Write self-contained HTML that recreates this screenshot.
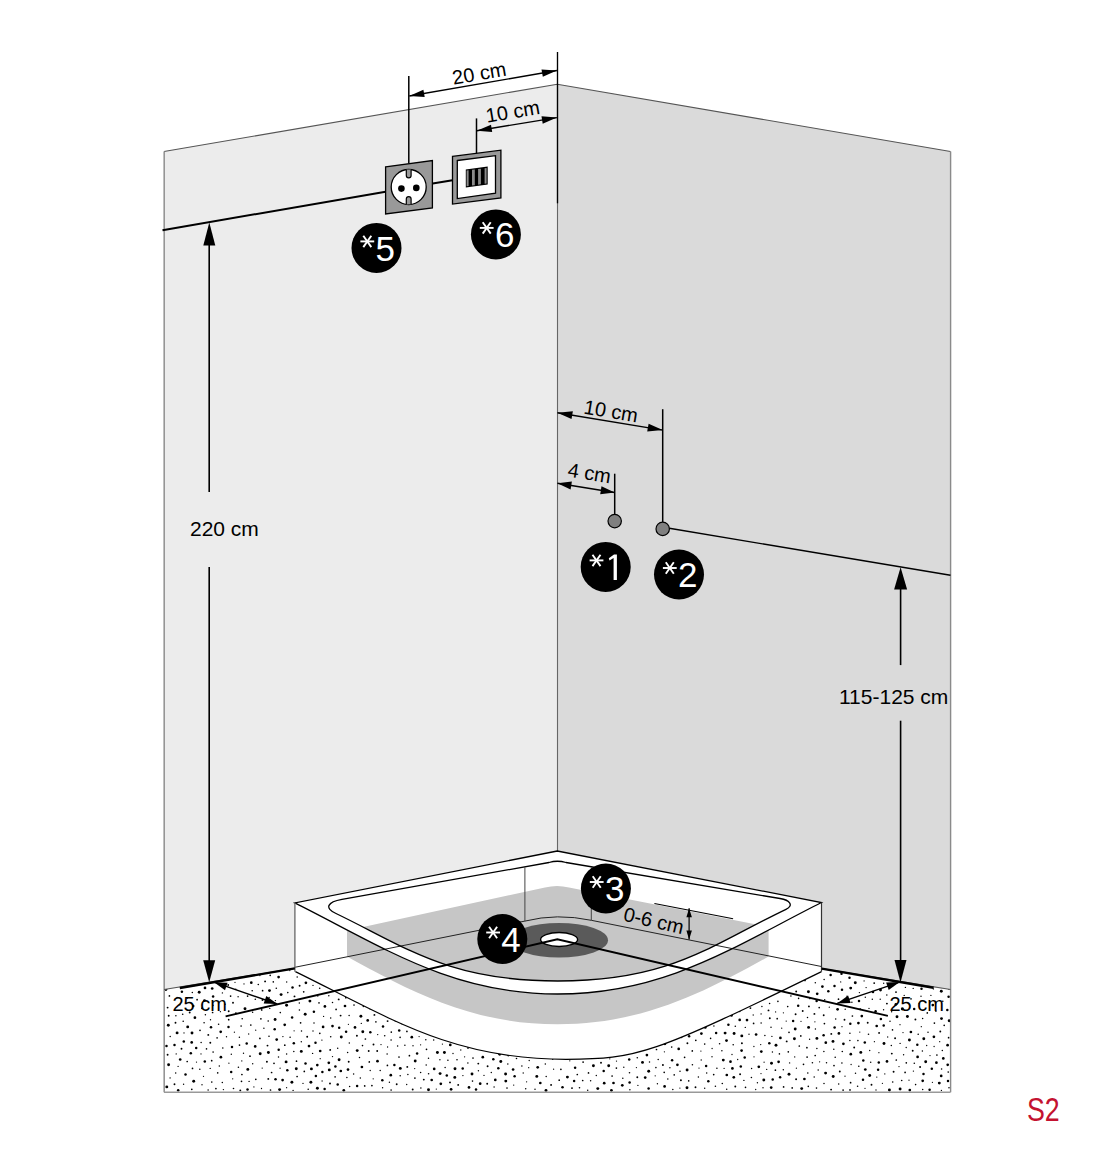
<!DOCTYPE html>
<html><head><meta charset="utf-8"><style>
html,body{margin:0;padding:0;background:#fff;}
body{width:1100px;height:1174px;overflow:hidden;}
svg{display:block;}
.t{font-family:"Liberation Sans",sans-serif;font-size:20px;fill:#000;}
.t21{font-size:21px;}
.it{font-style:italic;}
.bd{font-family:"Liberation Sans",sans-serif;font-size:35px;fill:#fff;}
.s2{font-family:"Liberation Sans",sans-serif;font-size:33.5px;fill:#c41230;}
</style></head><body>
<svg width="1100" height="1174" viewBox="0 0 1100 1174">
<rect width="1100" height="1174" fill="#fff"/>
<rect x="164" y="960" width="786.5" height="132" fill="#fff"/>
<g fill="#000"><circle cx="419.4" cy="981.4" r="1.25"/><circle cx="675.8" cy="971.3" r="0.65"/><circle cx="585.6" cy="1009" r="0.95"/><circle cx="211" cy="1027.2" r="1.25"/><circle cx="194.9" cy="1017.7" r="1.35"/><circle cx="220.3" cy="973.7" r="1.45"/><circle cx="498.3" cy="1068.3" r="1.25"/><circle cx="262.6" cy="990.7" r="0.85"/><circle cx="657.4" cy="1083.8" r="0.7"/><circle cx="617.9" cy="1013" r="0.65"/><circle cx="930.9" cy="968" r="0.8"/><circle cx="838.5" cy="999.2" r="0.85"/><circle cx="278.6" cy="977.1" r="1.35"/><circle cx="407.3" cy="1066.9" r="0.95"/><circle cx="307.2" cy="1036.7" r="0.95"/><circle cx="666.4" cy="1009.9" r="0.7"/><circle cx="594.9" cy="970.1" r="0.7"/><circle cx="212.2" cy="988.5" r="1.35"/><circle cx="698.9" cy="1016.9" r="0.7"/><circle cx="411.8" cy="1037.2" r="1.35"/><circle cx="520.8" cy="1000.5" r="1.35"/><circle cx="788.3" cy="1051.8" r="0.85"/><circle cx="356.9" cy="1035.8" r="0.95"/><circle cx="577.3" cy="1074.5" r="0.85"/><circle cx="737.4" cy="999" r="0.7"/><circle cx="934" cy="977.2" r="1.45"/><circle cx="493.3" cy="1059.3" r="1.25"/><circle cx="284.7" cy="1024.8" r="1.35"/><circle cx="196.2" cy="1047.9" r="1.25"/><circle cx="764.9" cy="1035.6" r="0.75"/><circle cx="851.9" cy="1002.3" r="0.75"/><circle cx="710.6" cy="1038.4" r="0.8"/><circle cx="620.1" cy="1020.6" r="0.65"/><circle cx="824" cy="1083.4" r="0.75"/><circle cx="537.2" cy="1047.3" r="1.45"/><circle cx="213.1" cy="1052.1" r="0.8"/><circle cx="672.8" cy="1089.6" r="0.75"/><circle cx="809.9" cy="998.6" r="0.8"/><circle cx="468" cy="1047.9" r="0.95"/><circle cx="183.2" cy="1021.3" r="0.8"/><circle cx="297.2" cy="977" r="0.75"/><circle cx="211.7" cy="1060.7" r="0.85"/><circle cx="472" cy="1074" r="1.45"/><circle cx="228.7" cy="1019.7" r="0.85"/><circle cx="596.3" cy="1075.5" r="0.7"/><circle cx="807.8" cy="1073" r="0.8"/><circle cx="383.8" cy="1015.4" r="0.7"/><circle cx="446.8" cy="1075.6" r="1.25"/><circle cx="916.4" cy="981.4" r="0.75"/><circle cx="303.7" cy="991.8" r="0.85"/><circle cx="348.4" cy="1024.3" r="0.65"/><circle cx="627.4" cy="995.8" r="1.25"/><circle cx="168.7" cy="1015.8" r="0.95"/><circle cx="455" cy="1034.8" r="1.45"/><circle cx="912.7" cy="1050.7" r="0.95"/><circle cx="569.6" cy="1041.4" r="0.85"/><circle cx="695.6" cy="968.9" r="0.7"/><circle cx="870.7" cy="1062.2" r="0.75"/><circle cx="851.1" cy="1064.5" r="0.65"/><circle cx="473.1" cy="1013.3" r="0.85"/><circle cx="246.7" cy="1043.5" r="1.25"/><circle cx="329.2" cy="982.9" r="0.7"/><circle cx="432.1" cy="968.8" r="0.95"/><circle cx="165.7" cy="981.4" r="0.95"/><circle cx="245" cy="1008.7" r="1.45"/><circle cx="185.5" cy="1074.4" r="1.25"/><circle cx="646.9" cy="981.1" r="1.25"/><circle cx="363.3" cy="1006.6" r="0.75"/><circle cx="451" cy="977.8" r="0.85"/><circle cx="831.1" cy="1089.6" r="0.95"/><circle cx="530.8" cy="1024.2" r="1.35"/><circle cx="232.8" cy="975.1" r="0.75"/><circle cx="434.1" cy="996" r="1.25"/><circle cx="815.3" cy="982.7" r="0.75"/><circle cx="183.6" cy="1084.2" r="0.7"/><circle cx="579.7" cy="980.8" r="0.85"/><circle cx="579.5" cy="1087.7" r="0.8"/><circle cx="842.3" cy="1051.5" r="0.8"/><circle cx="370.2" cy="1009.1" r="0.65"/><circle cx="296.5" cy="1061.2" r="0.85"/><circle cx="583.1" cy="1062.1" r="0.85"/><circle cx="424" cy="990.7" r="1.25"/><circle cx="801.7" cy="1088.6" r="1.45"/><circle cx="834" cy="1065.6" r="0.85"/><circle cx="807.1" cy="1057.1" r="0.85"/><circle cx="444.3" cy="965.7" r="1.45"/><circle cx="187.4" cy="997.9" r="0.8"/><circle cx="368.7" cy="1051" r="0.95"/><circle cx="915.4" cy="1019.5" r="0.95"/><circle cx="900.1" cy="1089" r="1.45"/><circle cx="914.2" cy="1008.9" r="1.25"/><circle cx="338.3" cy="991.1" r="1.35"/><circle cx="319.7" cy="988.3" r="0.8"/><circle cx="824.4" cy="1023.6" r="0.85"/><circle cx="677.4" cy="1064.8" r="1.35"/><circle cx="232" cy="1046.9" r="1.25"/><circle cx="878.8" cy="1062.5" r="1.25"/><circle cx="753.6" cy="1023.4" r="0.85"/><circle cx="305.5" cy="1063.4" r="1.25"/><circle cx="426.2" cy="1064.9" r="0.75"/><circle cx="927.3" cy="1012.9" r="0.85"/><circle cx="480.2" cy="1083.7" r="1.35"/><circle cx="733.7" cy="983.8" r="0.7"/><circle cx="265.1" cy="981.4" r="0.95"/><circle cx="280.1" cy="1068.2" r="0.65"/><circle cx="934.1" cy="1046.5" r="0.65"/><circle cx="440.2" cy="1032.5" r="0.95"/><circle cx="268.2" cy="963.8" r="0.85"/><circle cx="926.7" cy="1045.5" r="0.65"/><circle cx="505.6" cy="1074" r="1.45"/><circle cx="362.9" cy="999.6" r="0.8"/><circle cx="268.3" cy="1078.9" r="0.95"/><circle cx="442.9" cy="1020.9" r="0.95"/><circle cx="622.8" cy="1078.2" r="0.75"/><circle cx="495.3" cy="1079.9" r="1.35"/><circle cx="558.8" cy="1030.3" r="0.75"/><circle cx="575.9" cy="964.4" r="0.65"/><circle cx="510.6" cy="985.5" r="0.95"/><circle cx="168.6" cy="1064.7" r="1.45"/><circle cx="300.6" cy="1022.8" r="0.85"/><circle cx="734.1" cy="1033.5" r="1.45"/><circle cx="421.1" cy="1028.6" r="1.25"/><circle cx="601" cy="1062.8" r="0.95"/><circle cx="248.7" cy="1034" r="0.65"/><circle cx="771" cy="1027.2" r="0.75"/><circle cx="880.9" cy="1019" r="1.25"/><circle cx="645.7" cy="1027" r="0.95"/><circle cx="567" cy="1051" r="1.35"/><circle cx="520.1" cy="1030.5" r="1.25"/><circle cx="540.3" cy="1083" r="1.35"/><circle cx="713.7" cy="1074.6" r="0.85"/><circle cx="904.2" cy="995.4" r="0.7"/><circle cx="604.2" cy="1083.2" r="1.35"/><circle cx="824.1" cy="979.6" r="0.75"/><circle cx="260.9" cy="1018.8" r="0.85"/><circle cx="222.4" cy="992.9" r="0.7"/><circle cx="222.8" cy="1048" r="0.8"/><circle cx="780.1" cy="1077.3" r="1.25"/><circle cx="286.6" cy="1054" r="0.75"/><circle cx="683.1" cy="980.4" r="0.95"/><circle cx="857.6" cy="1086.3" r="0.8"/><circle cx="337.7" cy="1084.4" r="1.25"/><circle cx="477.7" cy="1024.6" r="0.85"/><circle cx="941.6" cy="1069" r="0.8"/><circle cx="292.1" cy="1017.5" r="1.25"/><circle cx="569.7" cy="1005.6" r="1.35"/><circle cx="319" cy="1002.9" r="0.8"/><circle cx="731.7" cy="964.5" r="0.8"/><circle cx="599.9" cy="1018.6" r="1.35"/><circle cx="179.7" cy="1004.6" r="0.95"/><circle cx="654.7" cy="1027.8" r="0.7"/><circle cx="215.9" cy="1088.6" r="0.85"/><circle cx="783.6" cy="1086.9" r="0.85"/><circle cx="247.6" cy="996.1" r="0.85"/><circle cx="196.5" cy="1062.1" r="0.65"/><circle cx="377.5" cy="978.6" r="1.35"/><circle cx="282.6" cy="1080.1" r="1.35"/><circle cx="612.8" cy="1052" r="1.45"/><circle cx="222.3" cy="1082.6" r="0.75"/><circle cx="662.9" cy="1065" r="0.95"/><circle cx="231.2" cy="1072" r="1.25"/><circle cx="217.7" cy="1072.9" r="0.8"/><circle cx="578.6" cy="992.6" r="0.8"/><circle cx="251.3" cy="982.7" r="1.35"/><circle cx="205" cy="987.9" r="1.35"/><circle cx="410.1" cy="1001.2" r="0.65"/><circle cx="760.9" cy="999.3" r="0.75"/><circle cx="557.6" cy="984.9" r="0.7"/><circle cx="361.9" cy="964" r="0.75"/><circle cx="314" cy="1023" r="0.75"/><circle cx="898.3" cy="975.7" r="0.95"/><circle cx="807.5" cy="1017.5" r="0.75"/><circle cx="553.6" cy="1069.2" r="0.65"/><circle cx="704.7" cy="1088.2" r="0.7"/><circle cx="434.2" cy="1068.9" r="1.35"/><circle cx="719.6" cy="1043.7" r="0.8"/><circle cx="482.8" cy="1006.7" r="0.65"/><circle cx="208.1" cy="978.7" r="0.65"/><circle cx="220.9" cy="1057.2" r="1.35"/><circle cx="365.9" cy="983" r="0.8"/><circle cx="386.5" cy="993.1" r="0.85"/><circle cx="395.3" cy="1021" r="0.7"/><circle cx="371.9" cy="1085.6" r="0.85"/><circle cx="928" cy="1032.3" r="0.75"/><circle cx="357.1" cy="1086.1" r="1.25"/><circle cx="537.6" cy="1026.6" r="1.25"/><circle cx="323.1" cy="1026.9" r="1.35"/><circle cx="169.4" cy="995.9" r="0.85"/><circle cx="235.9" cy="1013.3" r="0.95"/><circle cx="198.2" cy="964.9" r="0.75"/><circle cx="404" cy="991.9" r="1.25"/><circle cx="624.6" cy="1030" r="0.95"/><circle cx="753.9" cy="1046.5" r="0.65"/><circle cx="726.8" cy="1075" r="1.35"/><circle cx="470.9" cy="1003.9" r="1.25"/><circle cx="733.2" cy="1044.7" r="0.8"/><circle cx="199.8" cy="1069.3" r="0.75"/><circle cx="864.8" cy="1042.6" r="1.25"/><circle cx="740.8" cy="1066.4" r="1.25"/><circle cx="274.7" cy="1029.3" r="1.25"/><circle cx="560.9" cy="1069.3" r="0.85"/><circle cx="796.4" cy="1068.2" r="0.65"/><circle cx="700.9" cy="1051.1" r="0.65"/><circle cx="345.8" cy="966" r="1.45"/><circle cx="269.8" cy="1008.4" r="0.65"/><circle cx="247.8" cy="1069.4" r="1.45"/><circle cx="603.4" cy="1042.7" r="0.8"/><circle cx="656.5" cy="1049.5" r="0.85"/><circle cx="549.1" cy="962.4" r="0.75"/><circle cx="743.1" cy="994.4" r="1.45"/><circle cx="745.5" cy="1087.4" r="0.8"/><circle cx="552.8" cy="1011.2" r="1.45"/><circle cx="281.1" cy="994.6" r="1.45"/><circle cx="748.2" cy="1001.1" r="0.85"/><circle cx="610.6" cy="963.6" r="0.65"/><circle cx="213.1" cy="996.5" r="1.25"/><circle cx="692.3" cy="1050.9" r="0.85"/><circle cx="695.3" cy="999.4" r="1.35"/><circle cx="570.5" cy="1021.7" r="0.85"/><circle cx="531.1" cy="977.2" r="0.95"/><circle cx="866.1" cy="987.6" r="0.7"/><circle cx="932.4" cy="1082.3" r="0.65"/><circle cx="808.3" cy="1086.4" r="0.8"/><circle cx="330" cy="1083.5" r="0.95"/><circle cx="330.7" cy="1036.7" r="0.8"/><circle cx="808.6" cy="1027.4" r="1.45"/><circle cx="860.8" cy="1052.4" r="1.45"/><circle cx="346.9" cy="1077.4" r="0.75"/><circle cx="168.3" cy="1025.2" r="1.45"/><circle cx="891.8" cy="1053.6" r="0.95"/><circle cx="872.3" cy="999.2" r="0.75"/><circle cx="457.3" cy="1012.5" r="1.35"/><circle cx="948.6" cy="1037.7" r="0.85"/><circle cx="381.2" cy="968.2" r="0.85"/><circle cx="389.4" cy="1082.2" r="0.7"/><circle cx="566.1" cy="986.4" r="0.85"/><circle cx="458.2" cy="1084.9" r="0.95"/><circle cx="858.8" cy="1066.3" r="0.8"/><circle cx="903" cy="1032.6" r="0.65"/><circle cx="739.7" cy="1019.9" r="1.35"/><circle cx="389.9" cy="968.3" r="0.95"/><circle cx="535.7" cy="1006.2" r="0.85"/><circle cx="399" cy="1057" r="0.85"/><circle cx="930.9" cy="995.4" r="0.65"/><circle cx="679.8" cy="1000.7" r="1.25"/><circle cx="876" cy="1090" r="0.65"/><circle cx="518.3" cy="979.9" r="0.75"/><circle cx="316.3" cy="973.7" r="0.65"/><circle cx="353" cy="995.2" r="0.65"/><circle cx="612.1" cy="1076" r="0.85"/><circle cx="753.2" cy="1015" r="0.65"/><circle cx="490" cy="1029.4" r="0.7"/><circle cx="461" cy="1005.5" r="0.7"/><circle cx="924.2" cy="978.2" r="0.65"/><circle cx="560.2" cy="1042.9" r="0.95"/><circle cx="842" cy="989.8" r="1.25"/><circle cx="378" cy="993.9" r="1.35"/><circle cx="913.4" cy="1071.1" r="0.7"/><circle cx="849.8" cy="964.8" r="0.8"/><circle cx="190.8" cy="1053.2" r="1.25"/><circle cx="867.7" cy="1022.8" r="0.95"/><circle cx="625.8" cy="962" r="0.95"/><circle cx="472.5" cy="1081.1" r="0.8"/><circle cx="575" cy="1049.6" r="0.85"/><circle cx="903.6" cy="1054.7" r="0.7"/><circle cx="671.6" cy="1001" r="0.85"/><circle cx="664.4" cy="1051.8" r="0.65"/><circle cx="253.4" cy="971" r="0.8"/><circle cx="576.7" cy="1036.9" r="0.65"/><circle cx="469.8" cy="990.7" r="0.75"/><circle cx="636.7" cy="963.3" r="0.85"/><circle cx="917.3" cy="1044.8" r="1.25"/><circle cx="858.4" cy="1023.1" r="1.35"/><circle cx="406.5" cy="964.8" r="0.65"/><circle cx="556.2" cy="1048.7" r="1.25"/><circle cx="494.8" cy="995.1" r="1.35"/><circle cx="688.7" cy="1080.9" r="0.8"/><circle cx="430.5" cy="1016" r="0.7"/><circle cx="700.6" cy="987.5" r="0.95"/><circle cx="925.9" cy="1002.1" r="0.65"/><circle cx="808.4" cy="991.7" r="1.45"/><circle cx="339.1" cy="1059.7" r="1.45"/><circle cx="396.7" cy="1084.3" r="0.95"/><circle cx="340.6" cy="1015.6" r="0.95"/><circle cx="280.3" cy="1012.6" r="0.8"/><circle cx="276.8" cy="968.7" r="0.85"/><circle cx="212.6" cy="1012.5" r="0.85"/><circle cx="869.7" cy="1075.5" r="1.45"/><circle cx="895.9" cy="1004.3" r="1.35"/><circle cx="310.9" cy="1082.3" r="1.45"/><circle cx="750.6" cy="966.1" r="0.65"/><circle cx="686.4" cy="1010.7" r="1.35"/><circle cx="298.2" cy="962.4" r="1.45"/><circle cx="384.9" cy="1007.2" r="0.75"/><circle cx="921.5" cy="988.7" r="1.25"/><circle cx="445.1" cy="1067.6" r="0.75"/><circle cx="204.1" cy="1022.8" r="0.8"/><circle cx="868.7" cy="965.9" r="0.95"/><circle cx="487.6" cy="1066.3" r="0.95"/><circle cx="766.6" cy="967.2" r="0.65"/><circle cx="192.8" cy="970" r="0.65"/><circle cx="886.8" cy="995" r="0.75"/><circle cx="751.4" cy="1077.5" r="0.8"/><circle cx="884" cy="1043.5" r="1.45"/><circle cx="905" cy="965.1" r="0.8"/><circle cx="915.6" cy="1084.6" r="0.8"/><circle cx="502.6" cy="1025.4" r="0.95"/><circle cx="893.1" cy="985.5" r="0.65"/><circle cx="794.7" cy="1056.9" r="0.7"/><circle cx="641.6" cy="1004.1" r="1.45"/><circle cx="416" cy="1008.5" r="0.65"/><circle cx="778.8" cy="972.2" r="1.25"/><circle cx="320.2" cy="1058.7" r="0.65"/><circle cx="192" cy="1033" r="1.45"/><circle cx="420.9" cy="1088" r="0.75"/><circle cx="373.2" cy="972.8" r="1.35"/><circle cx="241.1" cy="1026.1" r="0.8"/><circle cx="722" cy="1019.4" r="0.8"/><circle cx="349.1" cy="1015.6" r="0.75"/><circle cx="824.7" cy="999.8" r="0.7"/><circle cx="609.9" cy="1009.9" r="0.75"/><circle cx="618.9" cy="1003.9" r="0.95"/><circle cx="476" cy="1089.5" r="1.25"/><circle cx="799.3" cy="1046" r="0.85"/><circle cx="942.4" cy="975.1" r="1.25"/><circle cx="537.7" cy="1067.3" r="1.35"/><circle cx="197.1" cy="999.7" r="0.85"/><circle cx="844.5" cy="1019.7" r="0.95"/><circle cx="369.3" cy="1061.9" r="0.85"/><circle cx="906.9" cy="975.6" r="1.35"/><circle cx="632.9" cy="1041.7" r="0.75"/><circle cx="336.1" cy="1009.4" r="0.85"/><circle cx="276.3" cy="988.2" r="0.8"/><circle cx="365.4" cy="1039" r="0.85"/><circle cx="676.4" cy="988.1" r="1.45"/><circle cx="410.3" cy="988.1" r="0.65"/><circle cx="789" cy="1032.4" r="0.8"/><circle cx="475.4" cy="1032.7" r="1.25"/><circle cx="666.6" cy="973.7" r="0.8"/><circle cx="293.8" cy="1051.4" r="0.75"/><circle cx="486.8" cy="998.4" r="0.7"/><circle cx="406.7" cy="1084.5" r="0.7"/><circle cx="843.1" cy="1090.1" r="0.85"/><circle cx="450.7" cy="987.3" r="0.85"/><circle cx="170.1" cy="1077.9" r="0.7"/><circle cx="484" cy="1075.4" r="0.65"/><circle cx="526.9" cy="982.9" r="0.95"/><circle cx="177.1" cy="1032.9" r="1.45"/><circle cx="667.8" cy="1078.9" r="0.75"/><circle cx="456.2" cy="1026.8" r="0.75"/><circle cx="574.1" cy="1080.9" r="1.25"/><circle cx="250.8" cy="1025" r="0.85"/><circle cx="544" cy="968.9" r="0.75"/><circle cx="891.6" cy="1011.8" r="0.75"/><circle cx="874.4" cy="1041.7" r="0.65"/><circle cx="781.6" cy="990.5" r="1.25"/><circle cx="733.8" cy="1077.3" r="1.35"/><circle cx="759.3" cy="966.9" r="0.8"/><circle cx="635.5" cy="1032.7" r="0.95"/><circle cx="657.1" cy="1001.3" r="1.25"/><circle cx="494.8" cy="1036.9" r="0.8"/><circle cx="499.3" cy="1046.7" r="0.65"/><circle cx="515.8" cy="1018.3" r="0.7"/><circle cx="183.8" cy="1041.5" r="1.25"/><circle cx="549.3" cy="992.2" r="0.65"/><circle cx="764.1" cy="1062.2" r="0.65"/><circle cx="565.5" cy="967.2" r="0.65"/><circle cx="560.6" cy="1010.6" r="1.35"/><circle cx="317.4" cy="1088.2" r="1.45"/><circle cx="551.1" cy="1084.9" r="0.95"/><circle cx="883.7" cy="983.2" r="0.7"/><circle cx="758.3" cy="982.4" r="1.45"/><circle cx="805" cy="980.4" r="0.85"/><circle cx="559.2" cy="1080.2" r="0.85"/><circle cx="328.8" cy="995.8" r="0.75"/><circle cx="562.2" cy="1003" r="0.75"/><circle cx="194.4" cy="985.4" r="0.8"/><circle cx="291.9" cy="1082.3" r="1.45"/><circle cx="698.4" cy="1077.1" r="0.75"/><circle cx="255.7" cy="1030.2" r="0.65"/><circle cx="849.9" cy="1033.3" r="0.8"/><circle cx="247.5" cy="1089.6" r="1.25"/><circle cx="659.2" cy="1012.7" r="0.95"/><circle cx="790.9" cy="996" r="0.8"/><circle cx="447.9" cy="1060.3" r="0.8"/><circle cx="624.8" cy="1047.3" r="0.85"/><circle cx="648.5" cy="1017.5" r="0.75"/><circle cx="567.4" cy="1077.1" r="1.45"/><circle cx="167.6" cy="1007.6" r="0.95"/><circle cx="341.3" cy="1037" r="1.45"/><circle cx="627.3" cy="988.2" r="1.25"/><circle cx="356.5" cy="981.2" r="1.25"/><circle cx="174.5" cy="1044.9" r="1.25"/><circle cx="671.7" cy="1019" r="0.75"/><circle cx="360.3" cy="1078.1" r="0.75"/><circle cx="200" cy="1030.3" r="0.85"/><circle cx="321.9" cy="1040.1" r="0.7"/><circle cx="203.5" cy="1076.3" r="0.65"/><circle cx="779.4" cy="1053.9" r="0.8"/><circle cx="747" cy="1020.1" r="1.35"/><circle cx="342.6" cy="975.5" r="0.75"/><circle cx="428.5" cy="1058.3" r="0.75"/><circle cx="723.5" cy="996.2" r="1.35"/><circle cx="373.5" cy="1044.5" r="0.95"/><circle cx="369.6" cy="992.3" r="1.45"/><circle cx="687" cy="1087.8" r="1.45"/><circle cx="508.3" cy="1055.1" r="1.35"/><circle cx="249.1" cy="1081.4" r="0.7"/><circle cx="435.9" cy="980.2" r="1.25"/><circle cx="712" cy="1056.7" r="0.7"/><circle cx="217.1" cy="1037.9" r="0.8"/><circle cx="882.4" cy="1083.3" r="0.65"/><circle cx="243.8" cy="974.6" r="0.85"/><circle cx="415.7" cy="1016.5" r="1.45"/><circle cx="387.1" cy="1054" r="0.75"/><circle cx="454" cy="1003.2" r="0.75"/><circle cx="921.3" cy="1026.7" r="0.65"/><circle cx="833" cy="1041.4" r="1.45"/><circle cx="437.4" cy="1052.5" r="1.45"/><circle cx="587.2" cy="989.8" r="0.65"/><circle cx="841.5" cy="973.7" r="1.25"/><circle cx="763" cy="1087.7" r="0.7"/><circle cx="713.9" cy="1026" r="0.7"/><circle cx="228.9" cy="1063.2" r="0.65"/><circle cx="863.6" cy="973.1" r="0.95"/><circle cx="462.9" cy="1075.6" r="0.7"/><circle cx="438.7" cy="1004" r="0.95"/><circle cx="287.3" cy="1070.3" r="1.25"/><circle cx="684.6" cy="1057.3" r="0.85"/><circle cx="771.9" cy="1036.4" r="0.65"/><circle cx="859.4" cy="992.6" r="0.7"/><circle cx="286.7" cy="982" r="0.7"/><circle cx="930" cy="1055.6" r="0.65"/><circle cx="470" cy="966.4" r="0.8"/><circle cx="478.3" cy="1063.6" r="0.95"/><circle cx="661.3" cy="1021.5" r="1.25"/><circle cx="276.7" cy="1039.6" r="1.35"/><circle cx="482.8" cy="1057.2" r="1.35"/><circle cx="772.4" cy="1052" r="0.7"/><circle cx="833.8" cy="1049.3" r="0.75"/><circle cx="659.1" cy="994.1" r="0.65"/><circle cx="497.6" cy="1020.5" r="1.25"/><circle cx="309" cy="1046.1" r="1.35"/><circle cx="775.6" cy="1011.9" r="0.65"/><circle cx="589.7" cy="1054.2" r="1.25"/><circle cx="815.4" cy="1029" r="0.7"/><circle cx="487.2" cy="1083.8" r="0.95"/><circle cx="330.2" cy="1049.9" r="0.95"/><circle cx="261.5" cy="1088.5" r="0.65"/><circle cx="175.9" cy="1015.8" r="0.75"/><circle cx="441.6" cy="996.1" r="1.35"/><circle cx="266.9" cy="1061.8" r="0.95"/><circle cx="533.3" cy="1034.2" r="1.45"/><circle cx="442.4" cy="1044.1" r="0.65"/><circle cx="532.5" cy="999.8" r="0.8"/><circle cx="595.3" cy="978.1" r="0.95"/><circle cx="819.2" cy="1007.6" r="0.85"/><circle cx="460.4" cy="994.6" r="0.7"/><circle cx="499.6" cy="985.9" r="0.7"/><circle cx="167.6" cy="1054.7" r="0.95"/><circle cx="402.1" cy="1023.6" r="0.95"/><circle cx="893.6" cy="1071.8" r="0.95"/><circle cx="210.2" cy="1068.4" r="0.7"/><circle cx="661.9" cy="963.9" r="0.65"/><circle cx="174.5" cy="1084.3" r="0.95"/><circle cx="348.7" cy="1061.8" r="0.95"/><circle cx="297.1" cy="1076.5" r="0.85"/><circle cx="642.5" cy="1062.4" r="1.45"/><circle cx="783.3" cy="1069.8" r="0.75"/><circle cx="320.2" cy="1051" r="1.35"/><circle cx="600.7" cy="996" r="0.95"/><circle cx="349.1" cy="979.9" r="0.8"/><circle cx="552.1" cy="969.5" r="1.25"/><circle cx="550.7" cy="1026" r="0.7"/><circle cx="588.5" cy="1072.9" r="0.85"/><circle cx="687.1" cy="1070" r="1.45"/><circle cx="918.6" cy="971.7" r="1.45"/><circle cx="664.9" cy="1043.7" r="1.45"/><circle cx="330.7" cy="1017.9" r="0.75"/><circle cx="814.4" cy="1013.9" r="0.95"/><circle cx="562.5" cy="1087.3" r="1.25"/><circle cx="424.9" cy="1002.7" r="0.7"/><circle cx="400.1" cy="1037.4" r="0.8"/><circle cx="859.8" cy="1032.1" r="0.65"/><circle cx="204.5" cy="1000.6" r="1.45"/><circle cx="649" cy="1042.5" r="0.85"/><circle cx="688.4" cy="1020.8" r="1.35"/><circle cx="763.4" cy="975" r="0.95"/><circle cx="307.6" cy="966.8" r="1.25"/><circle cx="772.7" cy="1079.5" r="1.25"/><circle cx="679.6" cy="1009.4" r="0.75"/><circle cx="402.3" cy="1016.2" r="1.35"/><circle cx="208.3" cy="1034.9" r="0.95"/><circle cx="196.4" cy="977.3" r="0.95"/><circle cx="800.8" cy="1035.9" r="0.85"/><circle cx="629.6" cy="1082.5" r="1.25"/><circle cx="934.4" cy="1023.1" r="0.85"/><circle cx="488.8" cy="975.1" r="0.95"/><circle cx="284.5" cy="964" r="0.95"/><circle cx="740.6" cy="986.1" r="0.75"/><circle cx="204.8" cy="1061.5" r="1.25"/><circle cx="737.6" cy="972.8" r="0.85"/><circle cx="526.6" cy="1081.8" r="0.65"/><circle cx="364.7" cy="1085.9" r="0.85"/><circle cx="806.3" cy="972.2" r="1.25"/><circle cx="409.4" cy="1055.7" r="0.85"/><circle cx="450.3" cy="1044.9" r="1.35"/><circle cx="467.9" cy="1063" r="0.75"/><circle cx="906.3" cy="1062.8" r="0.85"/><circle cx="609.9" cy="999.6" r="0.95"/><circle cx="716.9" cy="1068.3" r="0.8"/><circle cx="425.8" cy="1039.8" r="0.75"/><circle cx="931.8" cy="1068.8" r="1.25"/><circle cx="460.8" cy="1050" r="0.65"/><circle cx="637.3" cy="1077.2" r="0.95"/><circle cx="798.6" cy="998.4" r="0.8"/><circle cx="896" cy="992.1" r="0.95"/><circle cx="641.3" cy="1049.1" r="0.7"/><circle cx="786.2" cy="1021.1" r="0.65"/><circle cx="770.9" cy="991.9" r="0.7"/><circle cx="947.3" cy="1010.1" r="1.25"/><circle cx="782.8" cy="982.1" r="1.45"/><circle cx="633.7" cy="1006.3" r="1.25"/><circle cx="191.8" cy="1089.3" r="0.85"/><circle cx="878.9" cy="970.2" r="0.8"/><circle cx="922.7" cy="1089.4" r="0.75"/><circle cx="821.9" cy="968" r="0.8"/><circle cx="757.4" cy="1082.7" r="0.7"/><circle cx="629.2" cy="1059.4" r="1.25"/><circle cx="542.8" cy="983.7" r="0.75"/><circle cx="193.7" cy="1081.2" r="1.45"/><circle cx="845" cy="1076.2" r="0.65"/><circle cx="275.1" cy="1019.5" r="1.45"/><circle cx="241.5" cy="1081.3" r="0.85"/><circle cx="825.8" cy="1042.7" r="1.35"/><circle cx="658" cy="980.3" r="0.65"/><circle cx="339.3" cy="969.3" r="0.7"/><circle cx="725.1" cy="1033.1" r="1.45"/><circle cx="374.4" cy="1014.9" r="0.95"/><circle cx="414.9" cy="1078.1" r="0.85"/><circle cx="689.4" cy="989.1" r="0.75"/><circle cx="539.8" cy="998.8" r="0.8"/><circle cx="451.1" cy="1089.3" r="1.35"/><circle cx="948" cy="1080.9" r="1.25"/><circle cx="798.2" cy="1005.8" r="1.25"/><circle cx="880.5" cy="990" r="1.45"/><circle cx="613.4" cy="979.7" r="0.85"/><circle cx="723.4" cy="987.3" r="1.45"/><circle cx="324.1" cy="970.4" r="0.95"/><circle cx="825.6" cy="1073.1" r="1.45"/><circle cx="311.4" cy="1068.9" r="1.45"/><circle cx="260.2" cy="1053.8" r="1.45"/><circle cx="417.1" cy="1053.4" r="1.25"/><circle cx="567.9" cy="1030.2" r="1.35"/><circle cx="586.8" cy="964.7" r="0.75"/><circle cx="308.5" cy="975.2" r="0.85"/><circle cx="361.9" cy="1067" r="1.35"/><circle cx="713.5" cy="987.1" r="0.95"/><circle cx="617.5" cy="1029.2" r="0.75"/><circle cx="716.4" cy="975.2" r="0.7"/><circle cx="384.7" cy="977.7" r="0.65"/><circle cx="483.5" cy="979.6" r="0.75"/><circle cx="629.5" cy="1072.7" r="0.8"/><circle cx="750.8" cy="983.1" r="0.7"/><circle cx="354" cy="1005.1" r="0.8"/><circle cx="507" cy="1088.1" r="0.8"/><circle cx="796.1" cy="1079.3" r="0.95"/><circle cx="360.9" cy="1016.2" r="1.45"/><circle cx="581.6" cy="970.9" r="0.75"/><circle cx="181.8" cy="979.9" r="1.45"/><circle cx="925.7" cy="1061.8" r="1.45"/><circle cx="900.1" cy="1043.4" r="0.7"/><circle cx="859.1" cy="966.4" r="1.35"/><circle cx="590.6" cy="1080.8" r="0.75"/><circle cx="911" cy="998.9" r="0.8"/><circle cx="404.9" cy="1045.2" r="0.75"/><circle cx="259.9" cy="1038.4" r="0.85"/><circle cx="375.9" cy="1021.9" r="0.8"/><circle cx="234.4" cy="1032.2" r="0.65"/><circle cx="339.2" cy="1027.8" r="1.25"/><circle cx="465.9" cy="1037.3" r="0.7"/><circle cx="289.8" cy="970.6" r="0.65"/><circle cx="917.6" cy="1056.9" r="1.35"/><circle cx="286.6" cy="1005.3" r="1.45"/><circle cx="648.7" cy="1071.2" r="1.45"/><circle cx="744.7" cy="1057.5" r="1.25"/><circle cx="761.1" cy="1023.1" r="0.75"/><circle cx="557.1" cy="1019.1" r="0.8"/><circle cx="309.9" cy="1001.1" r="1.45"/><circle cx="621.5" cy="973.3" r="1.25"/><circle cx="886.9" cy="1003.6" r="0.95"/><circle cx="173.9" cy="968.1" r="0.8"/><circle cx="608.4" cy="1025.9" r="1.35"/><circle cx="887" cy="1061.4" r="1.35"/><circle cx="587.7" cy="1090.3" r="0.75"/><circle cx="440.8" cy="1083.8" r="1.35"/><circle cx="695.9" cy="1029.5" r="0.75"/><circle cx="510.6" cy="1042.3" r="0.65"/><circle cx="299.3" cy="1002.9" r="0.75"/><circle cx="567.4" cy="976.2" r="1.35"/><circle cx="861.8" cy="1016.1" r="1.35"/><circle cx="313" cy="985.4" r="0.65"/><circle cx="244" cy="983.9" r="0.65"/><circle cx="575.1" cy="1067.8" r="1.25"/><circle cx="214.2" cy="963.6" r="0.7"/><circle cx="769.6" cy="1003.5" r="0.8"/><circle cx="726.4" cy="1007.5" r="1.35"/><circle cx="518.2" cy="1011.6" r="0.85"/><circle cx="622.3" cy="1085.3" r="1.35"/><circle cx="637.9" cy="1085.4" r="0.65"/><circle cx="407.9" cy="1074.5" r="0.75"/><circle cx="545.3" cy="1063.9" r="0.75"/><circle cx="605.7" cy="976.8" r="0.65"/><circle cx="481.6" cy="970.4" r="1.35"/><circle cx="262.2" cy="1068.1" r="0.7"/><circle cx="238.1" cy="996.7" r="0.7"/><circle cx="513.1" cy="1069.5" r="1.35"/><circle cx="796.6" cy="982.5" r="0.85"/><circle cx="642.3" cy="989.3" r="0.7"/><circle cx="849.5" cy="977.8" r="1.25"/><circle cx="377.5" cy="1061.2" r="1.35"/><circle cx="304.3" cy="1071.4" r="0.85"/><circle cx="448.9" cy="1026.3" r="0.75"/><circle cx="398.3" cy="970.5" r="1.25"/><circle cx="269.1" cy="997.5" r="0.7"/><circle cx="489" cy="1046.7" r="0.65"/><circle cx="829.3" cy="1007.2" r="0.65"/><circle cx="255.8" cy="1079.3" r="0.85"/><circle cx="292.5" cy="987.5" r="1.25"/><circle cx="665.9" cy="985.1" r="0.7"/><circle cx="823.6" cy="1035.3" r="1.25"/><circle cx="819.6" cy="1061.8" r="0.65"/><circle cx="252.7" cy="1063.7" r="0.7"/><circle cx="753.1" cy="973.1" r="0.85"/><circle cx="710.1" cy="1012.6" r="0.8"/><circle cx="751.6" cy="1068.5" r="0.7"/><circle cx="907.4" cy="1016.5" r="1.45"/><circle cx="370.3" cy="1032.2" r="1.25"/><circle cx="488.2" cy="987.9" r="0.8"/><circle cx="409" cy="979.5" r="1.35"/><circle cx="400.2" cy="1075.7" r="0.75"/><circle cx="634.9" cy="1021.3" r="0.85"/><circle cx="255.3" cy="999.2" r="0.8"/><circle cx="221.8" cy="963.4" r="1.35"/><circle cx="943.3" cy="1058.4" r="1.35"/><circle cx="231.3" cy="1054.2" r="0.7"/><circle cx="187.2" cy="1061.5" r="0.85"/><circle cx="455" cy="1068.8" r="1.45"/><circle cx="353.2" cy="967.3" r="1.25"/><circle cx="235.8" cy="967.1" r="1.25"/><circle cx="387.6" cy="1047" r="0.65"/><circle cx="874.2" cy="983.1" r="0.95"/><circle cx="695.8" cy="1040.3" r="0.85"/><circle cx="187.3" cy="986.3" r="0.65"/><circle cx="364.2" cy="974.2" r="1.35"/><circle cx="549.1" cy="1033.2" r="0.65"/><circle cx="597.1" cy="1053.8" r="0.65"/><circle cx="472.8" cy="984" r="0.8"/><circle cx="918.2" cy="1034.3" r="0.8"/><circle cx="773.1" cy="979.6" r="0.7"/><circle cx="884.8" cy="1073.9" r="0.65"/><circle cx="699" cy="1068.1" r="0.65"/><circle cx="261.7" cy="1009.9" r="0.85"/><circle cx="638.9" cy="974.8" r="0.95"/><circle cx="464.1" cy="980.5" r="0.95"/><circle cx="706.1" cy="1065.9" r="1.25"/><circle cx="793.1" cy="966.6" r="0.65"/><circle cx="849.9" cy="1040.5" r="0.75"/><circle cx="225" cy="1004.3" r="0.75"/><circle cx="335.1" cy="1076.9" r="0.8"/><circle cx="170.2" cy="1036.4" r="0.75"/><circle cx="525.7" cy="1088.8" r="0.75"/><circle cx="943.4" cy="966.4" r="0.85"/><circle cx="789" cy="1074.2" r="1.45"/><circle cx="745.3" cy="1027.4" r="0.7"/><circle cx="212.9" cy="1005.3" r="0.85"/><circle cx="543" cy="1009.2" r="1.35"/><circle cx="401.9" cy="1001.6" r="1.35"/><circle cx="887.7" cy="1037" r="0.65"/><circle cx="228.2" cy="985" r="0.95"/><circle cx="218.6" cy="1024.3" r="0.8"/><circle cx="294.5" cy="996.4" r="0.95"/><circle cx="478.8" cy="987.7" r="0.75"/><circle cx="313" cy="1031" r="0.7"/><circle cx="201.1" cy="1042.5" r="0.75"/><circle cx="427.8" cy="1025.5" r="0.65"/><circle cx="528.8" cy="963.7" r="0.7"/><circle cx="646.9" cy="1055.1" r="1.35"/><circle cx="423.6" cy="974" r="1.45"/><circle cx="587.8" cy="1037.6" r="1.25"/><circle cx="723.3" cy="1060.1" r="1.45"/><circle cx="771.2" cy="1087.6" r="1.35"/><circle cx="941.3" cy="991.3" r="1.45"/><circle cx="600.8" cy="985.4" r="0.8"/><circle cx="902.3" cy="1009" r="1.45"/><circle cx="743.9" cy="1080.4" r="0.7"/><circle cx="793.1" cy="1021.1" r="1.25"/><circle cx="250" cy="1056.2" r="0.85"/><circle cx="346.9" cy="988.1" r="0.95"/><circle cx="760.7" cy="1044.6" r="0.7"/><circle cx="847" cy="996.3" r="0.7"/><circle cx="546.2" cy="1076.5" r="0.75"/><circle cx="700.8" cy="973.6" r="0.95"/><circle cx="431.7" cy="1080" r="1.35"/><circle cx="706" cy="966.9" r="0.65"/><circle cx="561.2" cy="991.8" r="0.8"/><circle cx="503" cy="975.5" r="1.45"/><circle cx="558.1" cy="976.4" r="0.7"/><circle cx="850.8" cy="1054.2" r="1.35"/><circle cx="494.1" cy="1087" r="0.7"/><circle cx="826.5" cy="1062.7" r="0.75"/><circle cx="709.7" cy="1003.7" r="0.95"/><circle cx="672.1" cy="1032.5" r="0.95"/><circle cx="834.6" cy="1027.6" r="1.25"/><circle cx="629.9" cy="1089.8" r="0.75"/><circle cx="349.3" cy="1042.9" r="0.75"/><circle cx="373.2" cy="1078.8" r="0.65"/><circle cx="536.5" cy="1054.7" r="1.25"/><circle cx="892.5" cy="1029.9" r="0.8"/><circle cx="576.3" cy="1029.8" r="0.8"/><circle cx="526.4" cy="1044.3" r="0.75"/><circle cx="814.2" cy="1076.9" r="0.75"/><circle cx="795.2" cy="1029" r="1.45"/><circle cx="520.5" cy="973.3" r="0.8"/><circle cx="710.4" cy="1019.7" r="0.75"/><circle cx="698.8" cy="1009.1" r="1.25"/><circle cx="664.2" cy="1072.4" r="0.8"/><circle cx="323.6" cy="1016.4" r="0.65"/><circle cx="786.7" cy="1041.4" r="0.95"/><circle cx="456.8" cy="967.6" r="0.8"/><circle cx="823.7" cy="1015.3" r="0.95"/><circle cx="536.8" cy="1076.4" r="1.45"/><circle cx="510.3" cy="1025.1" r="0.8"/><circle cx="756.1" cy="1034.5" r="1.35"/><circle cx="838.9" cy="1033.4" r="1.35"/><circle cx="566.1" cy="1016" r="0.65"/><circle cx="396.7" cy="989.1" r="0.75"/><circle cx="792.2" cy="1087.9" r="0.85"/><circle cx="889.4" cy="1090" r="1.45"/><circle cx="393.5" cy="1006.7" r="1.25"/><circle cx="828.3" cy="991.2" r="1.25"/><circle cx="890.4" cy="966.2" r="1.35"/><circle cx="359.5" cy="1057.4" r="0.75"/><circle cx="269" cy="1036.3" r="0.8"/><circle cx="442.2" cy="1010.2" r="0.8"/><circle cx="850.3" cy="1023.7" r="1.25"/><circle cx="294.1" cy="1030.8" r="0.65"/><circle cx="353.6" cy="1074" r="0.75"/><circle cx="189.7" cy="1012.5" r="0.95"/><circle cx="619.1" cy="992.1" r="0.85"/><circle cx="722.8" cy="970" r="0.95"/><circle cx="801" cy="1021.3" r="0.65"/><circle cx="628.4" cy="1017.9" r="0.7"/><circle cx="812.4" cy="1062.8" r="0.8"/><circle cx="524.5" cy="992.4" r="1.45"/><circle cx="303" cy="1083.4" r="0.65"/><circle cx="521.9" cy="1066" r="0.75"/><circle cx="513.7" cy="1085.1" r="0.7"/><circle cx="876.7" cy="1026" r="1.35"/><circle cx="701.4" cy="1033.6" r="1.35"/><circle cx="516.5" cy="1058.5" r="0.8"/><circle cx="473" cy="1058" r="0.85"/><circle cx="592.2" cy="1016.1" r="0.95"/><circle cx="721.9" cy="1050.8" r="0.75"/><circle cx="616.4" cy="1068.1" r="0.85"/><circle cx="787.7" cy="1006.6" r="0.8"/><circle cx="905.4" cy="987.4" r="0.7"/><circle cx="921" cy="996.3" r="0.7"/><circle cx="689.1" cy="1036.3" r="1.25"/><circle cx="482" cy="1035.7" r="1.45"/><circle cx="380.2" cy="1070.6" r="0.75"/><circle cx="674.2" cy="1074.9" r="0.8"/><circle cx="268.4" cy="1052.5" r="1.45"/><circle cx="695.5" cy="1087.3" r="0.95"/><circle cx="252.2" cy="990.8" r="0.8"/><circle cx="329.3" cy="1069.9" r="1.45"/><circle cx="187.7" cy="1026.9" r="1.45"/><circle cx="497.8" cy="970.1" r="0.95"/><circle cx="521.4" cy="1049.7" r="1.25"/><circle cx="604.7" cy="1052.1" r="1.45"/><circle cx="909" cy="1080.2" r="0.65"/><circle cx="732" cy="1054.5" r="0.65"/><circle cx="175.7" cy="1073" r="0.75"/><circle cx="293.8" cy="1043.2" r="1.25"/><circle cx="942.8" cy="1001.3" r="0.8"/><circle cx="286.1" cy="1061.9" r="1.45"/><circle cx="535" cy="1089.3" r="0.75"/><circle cx="722.3" cy="1083.5" r="0.8"/><circle cx="739.7" cy="1011.4" r="0.8"/><circle cx="462.6" cy="963.2" r="0.75"/><circle cx="655.2" cy="1075.8" r="0.65"/><circle cx="545.4" cy="1044.2" r="1.35"/><circle cx="875.6" cy="1011.2" r="1.25"/><circle cx="523.3" cy="1037.2" r="0.75"/><circle cx="510.2" cy="970.7" r="0.65"/><circle cx="534.5" cy="1013.4" r="0.7"/><circle cx="337.7" cy="1048.3" r="0.75"/><circle cx="863" cy="1079.8" r="1.25"/><circle cx="226.4" cy="969" r="0.8"/><circle cx="593.1" cy="999.4" r="1.45"/><circle cx="476.7" cy="963" r="0.8"/><circle cx="441.9" cy="974.1" r="1.45"/><circle cx="830.6" cy="975" r="1.25"/><circle cx="896.3" cy="1060" r="0.85"/><circle cx="181.9" cy="991.7" r="1.25"/><circle cx="581.7" cy="1045.5" r="0.95"/><circle cx="235.8" cy="989.3" r="0.7"/><circle cx="726.7" cy="1089.2" r="0.75"/><circle cx="634.2" cy="1051.3" r="0.85"/><circle cx="173.2" cy="986.4" r="0.65"/><circle cx="935.9" cy="1011.2" r="0.8"/><circle cx="274" cy="1063.3" r="0.85"/><circle cx="749" cy="1034.3" r="0.7"/><circle cx="230.6" cy="996.1" r="0.85"/><circle cx="890" cy="1021.2" r="0.75"/><circle cx="837.6" cy="1009.3" r="1.35"/><circle cx="872.3" cy="972.5" r="1.45"/><circle cx="480.7" cy="1049.3" r="0.8"/><circle cx="652.5" cy="989.8" r="1.45"/><circle cx="949.2" cy="1020.7" r="1.45"/><circle cx="367.7" cy="1020.4" r="1.35"/><circle cx="247.1" cy="964.2" r="0.95"/><circle cx="392.6" cy="999.1" r="1.45"/><circle cx="923.5" cy="1073.9" r="1.25"/><circle cx="677.8" cy="1027.9" r="0.85"/><circle cx="681.5" cy="1037.3" r="0.85"/><circle cx="708.1" cy="994.9" r="0.7"/><circle cx="692.4" cy="1064.7" r="0.8"/><circle cx="483.9" cy="1016.1" r="0.8"/><circle cx="226.5" cy="1036.8" r="0.7"/><circle cx="444.4" cy="1052.5" r="1.45"/><circle cx="695.5" cy="982.7" r="0.95"/><circle cx="766.7" cy="1069.4" r="0.65"/><circle cx="809.6" cy="1039.2" r="0.7"/><circle cx="301.3" cy="1051.4" r="1.45"/><circle cx="239.4" cy="1037.3" r="0.75"/><circle cx="338.7" cy="999.4" r="0.95"/><circle cx="684.9" cy="995.5" r="0.7"/><circle cx="220.4" cy="1011.7" r="0.65"/><circle cx="456.9" cy="1019.4" r="1.45"/><circle cx="892.7" cy="1082" r="0.8"/><circle cx="769.8" cy="1018.2" r="0.95"/><circle cx="499.3" cy="1005.4" r="1.35"/><circle cx="808.9" cy="1006.4" r="0.95"/><circle cx="422" cy="965.3" r="1.35"/><circle cx="449.6" cy="1008.7" r="0.7"/><circle cx="505.3" cy="1010.9" r="1.45"/><circle cx="788.9" cy="985.6" r="1.35"/><circle cx="879.1" cy="1032.9" r="0.95"/><circle cx="761" cy="1073.6" r="0.65"/><circle cx="871.5" cy="1084.7" r="0.95"/><circle cx="650.2" cy="1001" r="1.25"/><circle cx="413.1" cy="1026.8" r="0.65"/><circle cx="535.1" cy="987.4" r="1.45"/><circle cx="629.6" cy="980.6" r="1.25"/><circle cx="715.4" cy="1086.3" r="0.8"/><circle cx="504.6" cy="1000.3" r="0.8"/><circle cx="467.9" cy="974" r="0.85"/><circle cx="929.6" cy="1089.8" r="1.25"/><circle cx="905.1" cy="1072.4" r="0.85"/><circle cx="781.7" cy="1028.2" r="0.65"/><circle cx="942.3" cy="1050.4" r="0.75"/><circle cx="523.2" cy="1073" r="0.7"/><circle cx="940.3" cy="1031.5" r="0.95"/><circle cx="429.2" cy="983" r="0.7"/><circle cx="835.7" cy="1019" r="0.75"/><circle cx="528.7" cy="1067.7" r="0.65"/><circle cx="860.2" cy="1009.2" r="0.95"/><circle cx="659" cy="1034.3" r="0.7"/><circle cx="724.6" cy="962.2" r="0.85"/><circle cx="816.5" cy="1088.1" r="0.8"/><circle cx="878.9" cy="1052.7" r="0.65"/><circle cx="220.7" cy="1031.8" r="1.35"/><circle cx="201" cy="1053.9" r="0.65"/><circle cx="622.6" cy="1054.9" r="0.65"/><circle cx="453" cy="1053.5" r="0.7"/><circle cx="382.6" cy="1087.7" r="0.7"/><circle cx="508.8" cy="962.5" r="1.25"/><circle cx="843.4" cy="1043.8" r="1.35"/><circle cx="727.5" cy="976.8" r="1.45"/><circle cx="383" cy="1026.6" r="1.25"/><circle cx="393.2" cy="1013.7" r="1.35"/><circle cx="543.8" cy="1055.9" r="0.95"/><circle cx="446.1" cy="1001.4" r="1.45"/><circle cx="678.7" cy="1048.9" r="1.35"/><circle cx="796.2" cy="991.5" r="0.95"/><circle cx="833.2" cy="1076.5" r="1.45"/><circle cx="457" cy="1059.8" r="0.8"/><circle cx="426.5" cy="1049.3" r="0.85"/><circle cx="181.5" cy="1048.7" r="0.95"/><circle cx="322.4" cy="1071.9" r="1.25"/><circle cx="420.6" cy="1044.8" r="0.65"/><circle cx="775.4" cy="1070.2" r="0.85"/><circle cx="792.4" cy="975.4" r="0.75"/><circle cx="332.1" cy="962.3" r="1.45"/><circle cx="647.5" cy="1034.4" r="0.85"/><circle cx="255.2" cy="1046.4" r="1.35"/><circle cx="670.8" cy="979.5" r="0.7"/><circle cx="609.8" cy="1058.8" r="0.65"/><circle cx="645.2" cy="966.3" r="0.95"/><circle cx="941.5" cy="1018.6" r="1.45"/><circle cx="817.2" cy="993.8" r="1.35"/><circle cx="841.9" cy="1063" r="0.8"/><circle cx="777.9" cy="1001.4" r="0.8"/><circle cx="735.4" cy="991.3" r="0.8"/><circle cx="614.6" cy="1045.3" r="0.85"/><circle cx="707.5" cy="981.7" r="0.65"/><circle cx="305.2" cy="1014.2" r="1.45"/><circle cx="593.4" cy="1065.8" r="1.45"/><circle cx="575.4" cy="1000.6" r="1.35"/><circle cx="850.7" cy="988.1" r="1.45"/><circle cx="491.8" cy="966.4" r="0.7"/><circle cx="890" cy="976" r="0.75"/><circle cx="381" cy="1044.6" r="0.7"/><circle cx="560.5" cy="1054.5" r="0.7"/><circle cx="865.3" cy="997.2" r="0.7"/><circle cx="947.6" cy="1045.2" r="1.35"/><circle cx="528.1" cy="1053.7" r="0.75"/><circle cx="610.8" cy="989.2" r="0.75"/><circle cx="340.8" cy="1071" r="1.35"/><circle cx="243.5" cy="1053.2" r="0.7"/><circle cx="941.2" cy="1075.9" r="1.35"/><circle cx="671.7" cy="1047.1" r="0.8"/><circle cx="909.8" cy="1090.1" r="1.35"/><circle cx="927.4" cy="984.4" r="0.65"/><circle cx="652.1" cy="970.4" r="0.65"/><circle cx="854.2" cy="1047.5" r="0.95"/><circle cx="382.3" cy="1080.2" r="1.25"/><circle cx="735.3" cy="1086.5" r="0.95"/><circle cx="785.1" cy="966" r="0.65"/><circle cx="813.1" cy="974.5" r="1.25"/><circle cx="362.8" cy="1031.7" r="1.45"/><circle cx="271.6" cy="1072.5" r="0.85"/><circle cx="712.1" cy="1048.5" r="0.65"/><circle cx="855.3" cy="982.8" r="1.45"/><circle cx="777.2" cy="1018.7" r="0.85"/><circle cx="586.9" cy="1030.5" r="1.35"/><circle cx="514.9" cy="991.9" r="0.7"/><circle cx="729.1" cy="1000.7" r="0.7"/><circle cx="347.6" cy="1052.5" r="0.75"/><circle cx="439.9" cy="1059.7" r="0.7"/><circle cx="328.8" cy="1062.8" r="1.35"/><circle cx="312.6" cy="1053.4" r="0.7"/><circle cx="852.4" cy="1016" r="0.85"/><circle cx="737.7" cy="1059.5" r="0.65"/><circle cx="330.3" cy="975.7" r="0.8"/><circle cx="552.7" cy="1059.3" r="0.75"/><circle cx="504.4" cy="1034.1" r="1.25"/><circle cx="850.6" cy="1082.7" r="0.85"/><circle cx="865.3" cy="1069.5" r="1.35"/><circle cx="219.3" cy="1065.9" r="0.75"/><circle cx="345" cy="1006" r="1.35"/><circle cx="761.1" cy="1013.9" r="0.7"/><circle cx="502.4" cy="993.1" r="0.95"/><circle cx="233.5" cy="1088.5" r="0.8"/><circle cx="439.8" cy="986" r="1.25"/><circle cx="241.9" cy="1074.5" r="0.85"/><circle cx="587.5" cy="975" r="0.95"/><circle cx="431.8" cy="1003.3" r="0.95"/><circle cx="600.8" cy="1008.6" r="0.85"/><circle cx="599.8" cy="1031.3" r="0.65"/><circle cx="417.9" cy="995.6" r="1.35"/><circle cx="878.1" cy="1069.7" r="1.25"/><circle cx="741.6" cy="1050.6" r="1.35"/><circle cx="947.7" cy="1064.8" r="1.35"/><circle cx="572" cy="1088.1" r="0.95"/><circle cx="603.7" cy="1071.1" r="1.25"/><circle cx="167.8" cy="973.9" r="0.65"/><circle cx="324.9" cy="1006.4" r="1.35"/><circle cx="799.6" cy="976" r="0.7"/><circle cx="576.4" cy="1016.1" r="0.8"/><circle cx="816.9" cy="1048.5" r="0.75"/><circle cx="570.2" cy="992.1" r="0.75"/><circle cx="754" cy="991.1" r="0.95"/><circle cx="475" cy="996.6" r="1.25"/><circle cx="452.7" cy="962.1" r="0.7"/><circle cx="658.2" cy="1041.7" r="1.35"/><circle cx="186.4" cy="974.1" r="0.75"/><circle cx="761.3" cy="989.8" r="0.65"/><circle cx="611.2" cy="1018.5" r="1.45"/><circle cx="941.4" cy="1090.4" r="0.65"/><circle cx="922.6" cy="1018.4" r="0.75"/><circle cx="901.7" cy="1080.5" r="0.8"/><circle cx="470.2" cy="1019.8" r="1.35"/><circle cx="202.9" cy="973.1" r="0.95"/><circle cx="259.9" cy="975.6" r="0.7"/><circle cx="664.6" cy="1086.4" r="1.35"/><circle cx="868.5" cy="1034.3" r="0.8"/><circle cx="641.1" cy="1040.9" r="1.25"/><circle cx="900" cy="1024.7" r="0.65"/><circle cx="405.1" cy="973" r="0.95"/><circle cx="387.4" cy="1065.4" r="0.85"/><circle cx="776" cy="1045.2" r="1.45"/><circle cx="420.6" cy="1072.4" r="0.75"/><circle cx="211.8" cy="1082.1" r="0.8"/><circle cx="583.7" cy="998.1" r="0.95"/><circle cx="278.7" cy="1049.7" r="1.25"/><circle cx="680.3" cy="1018.7" r="0.85"/><circle cx="838.1" cy="967.4" r="1.25"/><circle cx="527.7" cy="1014.9" r="0.95"/><circle cx="708.3" cy="1081.3" r="1.25"/><circle cx="855.5" cy="1073.3" r="0.75"/><circle cx="719.2" cy="1008.5" r="0.75"/><circle cx="391.3" cy="1032.1" r="0.85"/><circle cx="275.4" cy="1000.6" r="0.7"/><circle cx="859" cy="1001.1" r="1.25"/><circle cx="370.2" cy="1070.5" r="0.7"/><circle cx="705.3" cy="1027.5" r="1.35"/><circle cx="910.9" cy="1032" r="1.35"/><circle cx="469" cy="1087.4" r="1.35"/><circle cx="413" cy="1045.8" r="0.7"/><circle cx="308.2" cy="1089.3" r="0.8"/><circle cx="381" cy="985.7" r="0.75"/><circle cx="559.4" cy="964" r="0.7"/><circle cx="202" cy="1084.7" r="0.7"/><circle cx="239.5" cy="1045.1" r="0.85"/><circle cx="564" cy="1037" r="1.35"/><circle cx="550.6" cy="999.8" r="1.45"/><circle cx="491.3" cy="1007" r="1.45"/><circle cx="766.3" cy="984.6" r="0.7"/><circle cx="629.4" cy="972" r="0.75"/><circle cx="869" cy="1008.4" r="0.65"/><circle cx="891.3" cy="1045.5" r="0.75"/><circle cx="569.8" cy="1060.8" r="0.65"/><circle cx="263.9" cy="1028.3" r="0.7"/><circle cx="270.5" cy="1090" r="0.85"/><circle cx="620.8" cy="1038.8" r="1.45"/><circle cx="268.2" cy="1021" r="0.8"/><circle cx="176.2" cy="1053.9" r="0.7"/><circle cx="428.5" cy="1089.7" r="1.45"/><circle cx="572.5" cy="983.6" r="1.25"/><circle cx="741.8" cy="1035.9" r="1.45"/><circle cx="315.5" cy="1042.7" r="1.25"/><circle cx="909.4" cy="1040" r="1.45"/><circle cx="275.5" cy="1079.2" r="1.25"/><circle cx="433.7" cy="1039.9" r="0.75"/><circle cx="286.6" cy="1087.7" r="0.65"/><circle cx="377.7" cy="1034.6" r="0.7"/><circle cx="675.2" cy="962.7" r="1.35"/><circle cx="652" cy="1009" r="1.45"/><circle cx="495.7" cy="977.2" r="1.25"/><circle cx="449.9" cy="1016" r="0.95"/><circle cx="464.9" cy="1026.2" r="0.95"/><circle cx="876.8" cy="1077.1" r="0.65"/><circle cx="178.1" cy="1066.4" r="0.65"/><circle cx="864.1" cy="980.9" r="0.65"/><circle cx="655.9" cy="1067.6" r="0.8"/><circle cx="688" cy="974.1" r="0.75"/><circle cx="596.1" cy="1041.1" r="1.45"/><circle cx="414.4" cy="971.9" r="1.25"/><circle cx="357.2" cy="1050.6" r="1.45"/><circle cx="464.6" cy="1014.2" r="0.8"/><circle cx="390.8" cy="1075.2" r="1.35"/><circle cx="728.4" cy="1024.8" r="1.25"/><circle cx="936.2" cy="962.3" r="1.35"/><circle cx="282.9" cy="1036.6" r="0.7"/><circle cx="845.2" cy="1009.2" r="0.7"/><circle cx="432.9" cy="1032.8" r="1.25"/><circle cx="823.9" cy="1051.5" r="0.75"/><circle cx="816.9" cy="1038.4" r="1.45"/><circle cx="255.6" cy="963.7" r="0.75"/><circle cx="803.5" cy="1064.3" r="0.85"/><circle cx="687.4" cy="1043.3" r="0.95"/><circle cx="610.8" cy="1033.8" r="1.25"/><circle cx="505.8" cy="1081.1" r="1.45"/><circle cx="549.4" cy="980.6" r="0.85"/><circle cx="267.5" cy="1045.6" r="0.95"/><circle cx="205.4" cy="1014.8" r="0.75"/><circle cx="806.7" cy="962.3" r="0.65"/><circle cx="672.1" cy="1060.2" r="1.25"/><circle cx="648.6" cy="1088.6" r="1.25"/><circle cx="794.4" cy="1038.7" r="1.45"/><circle cx="545.4" cy="1018.1" r="1.45"/><circle cx="457.1" cy="1043.5" r="0.85"/><circle cx="834.5" cy="985.9" r="1.25"/><circle cx="408.6" cy="1019.6" r="0.65"/><circle cx="394.4" cy="1064.9" r="1.25"/><circle cx="869.7" cy="1050.5" r="0.7"/><circle cx="680.9" cy="1080.2" r="0.95"/><circle cx="732.4" cy="1068.4" r="1.35"/><circle cx="252.6" cy="1012.3" r="0.75"/><circle cx="780.4" cy="1037.9" r="1.35"/><circle cx="704.7" cy="1044.1" r="0.8"/><circle cx="840.7" cy="981.9" r="0.65"/><circle cx="193.2" cy="1005.9" r="1.25"/><circle cx="802.7" cy="1011" r="0.95"/><circle cx="313.9" cy="1011.7" r="1.25"/><circle cx="384.7" cy="1035.8" r="0.8"/><circle cx="242.2" cy="1018.8" r="0.8"/><circle cx="829.6" cy="962.5" r="0.95"/><circle cx="949.4" cy="974.8" r="0.95"/><circle cx="387.6" cy="1021.1" r="0.95"/><circle cx="741.9" cy="1043.2" r="0.95"/><circle cx="541.3" cy="962.4" r="1.25"/><circle cx="939.3" cy="1083.1" r="1.45"/><circle cx="863.3" cy="1060.5" r="1.25"/><circle cx="525.9" cy="1008" r="1.45"/><circle cx="515.3" cy="965.7" r="0.65"/><circle cx="343.8" cy="1090.3" r="1.35"/><circle cx="597.8" cy="1088.6" r="1.45"/><circle cx="278.5" cy="1056.9" r="0.75"/><circle cx="715" cy="963.9" r="0.7"/><circle cx="419.1" cy="1036.6" r="0.65"/><circle cx="897" cy="1016.8" r="1.45"/><circle cx="206.5" cy="1048.9" r="0.8"/><circle cx="789.6" cy="1062.9" r="0.7"/><circle cx="939" cy="983.3" r="0.75"/><circle cx="241.8" cy="1060.9" r="0.65"/><circle cx="575.8" cy="974.7" r="1.45"/><circle cx="578.7" cy="1055.7" r="1.25"/><circle cx="822.4" cy="986.6" r="1.35"/><circle cx="778.6" cy="1061.8" r="1.35"/><circle cx="658.2" cy="1059.4" r="0.75"/><circle cx="806.9" cy="1047.7" r="0.85"/><circle cx="754" cy="1056.8" r="0.65"/><circle cx="665.8" cy="996.2" r="0.65"/><circle cx="535.7" cy="969.2" r="0.65"/><circle cx="355" cy="1027.4" r="1.35"/><circle cx="919.1" cy="1003.6" r="0.7"/><circle cx="761.3" cy="1051.6" r="1.35"/><circle cx="362.5" cy="1045.6" r="0.8"/><circle cx="361.2" cy="991.1" r="1.25"/><circle cx="592.4" cy="1047.6" r="0.65"/><circle cx="913.5" cy="966" r="0.95"/><circle cx="397.3" cy="979.3" r="0.85"/><circle cx="586.2" cy="1020.7" r="1.25"/><circle cx="923.8" cy="1038.8" r="1.45"/><circle cx="701.2" cy="1060" r="0.7"/><circle cx="337" cy="982.4" r="0.65"/><circle cx="634.7" cy="995.1" r="1.45"/><circle cx="897.9" cy="966.1" r="0.95"/><circle cx="184" cy="1032.9" r="0.7"/><circle cx="322.1" cy="1081" r="0.65"/><circle cx="415.2" cy="1061" r="1.45"/><circle cx="606.2" cy="969.6" r="1.35"/><circle cx="665.6" cy="1027.5" r="1.35"/><circle cx="922.6" cy="964.2" r="0.8"/><circle cx="217.4" cy="981.3" r="0.85"/><circle cx="489.6" cy="1021.3" r="1.45"/><circle cx="491.3" cy="1072.5" r="0.7"/><circle cx="698.9" cy="962.1" r="0.7"/><circle cx="279.6" cy="1089.6" r="1.45"/><circle cx="936.4" cy="1062.7" r="1.35"/><circle cx="538.1" cy="1040.1" r="0.7"/><circle cx="356.9" cy="974.2" r="0.8"/><circle cx="270.2" cy="975.4" r="0.8"/><circle cx="626.5" cy="1008" r="0.8"/><circle cx="507.8" cy="1063.9" r="0.75"/><circle cx="464.6" cy="1056.8" r="0.65"/><circle cx="192.5" cy="1068.4" r="0.85"/><circle cx="933.9" cy="1036.8" r="1.35"/><circle cx="644.1" cy="1010.6" r="0.65"/><circle cx="397.6" cy="1046" r="0.75"/><circle cx="332.5" cy="1026.1" r="1.35"/><circle cx="691" cy="963.3" r="1.45"/><circle cx="865" cy="1088.3" r="0.65"/><circle cx="744.2" cy="963.4" r="0.85"/><circle cx="435.9" cy="1020.7" r="0.8"/><circle cx="763.8" cy="1080" r="1.45"/><circle cx="372.7" cy="965.8" r="0.7"/><circle cx="459.1" cy="986" r="1.25"/><circle cx="166.8" cy="1086.9" r="1.45"/><circle cx="684.3" cy="965.4" r="0.8"/><circle cx="408.3" cy="1012.5" r="0.95"/><circle cx="644.3" cy="996.6" r="1.35"/><circle cx="813.1" cy="965.8" r="0.95"/><circle cx="645.2" cy="1077.6" r="1.35"/><circle cx="478.4" cy="1070.7" r="0.7"/><circle cx="634.2" cy="986" r="1.35"/><circle cx="399.2" cy="1030.4" r="1.25"/><circle cx="761.9" cy="1006.5" r="0.7"/><circle cx="948.9" cy="989.4" r="0.7"/><circle cx="750.4" cy="1008.1" r="0.95"/><circle cx="232.7" cy="1078.8" r="0.65"/><circle cx="189.3" cy="963.4" r="0.8"/><circle cx="613.5" cy="1083" r="1.35"/><circle cx="450" cy="1082.4" r="0.95"/><circle cx="622.1" cy="983.1" r="0.8"/><circle cx="906.2" cy="1047.5" r="0.7"/><circle cx="914.3" cy="1063.2" r="0.8"/><circle cx="608.7" cy="1065.7" r="1.45"/><circle cx="541.7" cy="991.2" r="0.75"/><circle cx="174.5" cy="976.9" r="0.75"/><circle cx="233" cy="1002.7" r="0.95"/><circle cx="948.2" cy="1072.1" r="0.8"/><circle cx="883.7" cy="1025.6" r="1.25"/><circle cx="512.7" cy="1001.3" r="0.65"/><circle cx="881.6" cy="962.3" r="0.65"/><circle cx="636.4" cy="1067.6" r="0.65"/><circle cx="422.1" cy="1013.5" r="1.25"/><circle cx="716.1" cy="1033" r="1.25"/><circle cx="301.3" cy="1041.7" r="0.7"/><circle cx="838.7" cy="1084" r="0.75"/><circle cx="317.8" cy="996" r="0.7"/><circle cx="207.2" cy="965.3" r="1.35"/><circle cx="346.1" cy="1031.8" r="1.25"/><circle cx="636.6" cy="1014" r="0.85"/><circle cx="485.7" cy="962.5" r="1.25"/><circle cx="618.4" cy="962.7" r="0.7"/><circle cx="795.6" cy="1014.2" r="0.95"/><circle cx="180.2" cy="1059.5" r="1.35"/><circle cx="474" cy="1040.6" r="0.95"/><circle cx="228.5" cy="1027.1" r="1.25"/><circle cx="716.1" cy="994.1" r="0.8"/><circle cx="815.2" cy="1055.5" r="0.85"/><circle cx="944.2" cy="1025.4" r="0.8"/><circle cx="175.5" cy="1022.8" r="0.95"/><circle cx="361.3" cy="1023.4" r="0.65"/><circle cx="293.1" cy="1090.4" r="0.7"/><circle cx="372.5" cy="999.6" r="1.45"/><circle cx="167.9" cy="962.2" r="0.65"/><circle cx="593.8" cy="962.2" r="1.25"/><circle cx="514.6" cy="1076.2" r="1.25"/><circle cx="818.2" cy="1070" r="0.75"/><circle cx="301.5" cy="1030.9" r="0.75"/><circle cx="378.6" cy="1003.6" r="0.65"/><circle cx="731.5" cy="1015.5" r="1.35"/><circle cx="772.1" cy="962.9" r="1.25"/><circle cx="593.6" cy="985.2" r="0.7"/><circle cx="210.3" cy="1042.7" r="0.95"/><circle cx="804.4" cy="1079" r="1.35"/><circle cx="899" cy="1066.6" r="0.65"/><circle cx="390.8" cy="984.3" r="0.8"/><circle cx="835.2" cy="1057.2" r="0.8"/><circle cx="223.4" cy="1089.6" r="0.7"/><circle cx="384.7" cy="1000.1" r="0.95"/><circle cx="798.7" cy="962.2" r="0.75"/><circle cx="317.3" cy="1065.1" r="1.35"/><circle cx="522.6" cy="1021" r="0.85"/><circle cx="933.4" cy="988.9" r="0.7"/><circle cx="745.3" cy="978.4" r="0.75"/><circle cx="284.8" cy="1045.2" r="0.85"/><circle cx="947.4" cy="981.7" r="1.25"/><circle cx="465.2" cy="999.7" r="1.45"/><circle cx="261.1" cy="968.1" r="0.75"/><circle cx="202" cy="1008.3" r="0.95"/><circle cx="939.7" cy="1041.7" r="0.65"/><circle cx="412.7" cy="1089.5" r="0.95"/><circle cx="377.2" cy="1051" r="0.95"/><circle cx="499.7" cy="1054.3" r="1.45"/><circle cx="182.4" cy="963.5" r="0.8"/><circle cx="492.9" cy="1015" r="1.35"/><circle cx="853.4" cy="971.5" r="0.8"/><circle cx="414.6" cy="963.5" r="0.95"/><circle cx="262.5" cy="1000" r="0.95"/><circle cx="192.3" cy="992.5" r="0.75"/><circle cx="556.4" cy="1036.9" r="0.85"/><circle cx="850" cy="1089.9" r="0.85"/><circle cx="687.6" cy="1028.8" r="0.75"/><circle cx="755.7" cy="1089.5" r="0.65"/><circle cx="238.4" cy="1067.3" r="0.8"/><circle cx="440.1" cy="1073.6" r="1.45"/><circle cx="299.4" cy="1010" r="0.8"/><circle cx="178.2" cy="1090.3" r="1.25"/><circle cx="540.1" cy="976.2" r="1.35"/><circle cx="669.9" cy="1067.7" r="0.7"/><circle cx="394.7" cy="963" r="1.35"/><circle cx="452.1" cy="994.5" r="0.75"/><circle cx="475.7" cy="974.8" r="1.45"/><circle cx="324.6" cy="1089" r="1.25"/><circle cx="740.1" cy="1074.3" r="0.95"/><circle cx="182.7" cy="1014.2" r="0.8"/><circle cx="688.1" cy="1003.7" r="1.35"/><circle cx="319.8" cy="1033.3" r="0.85"/><circle cx="680" cy="1071.2" r="0.75"/><circle cx="932.8" cy="1005.1" r="1.35"/><circle cx="462.7" cy="1068.4" r="1.25"/><circle cx="769.3" cy="1043.2" r="1.25"/><circle cx="500.8" cy="1061.5" r="1.45"/><circle cx="880.2" cy="999.3" r="0.7"/><circle cx="771.5" cy="1063.2" r="1.45"/><circle cx="922.4" cy="1051.1" r="0.75"/><circle cx="305.9" cy="982.8" r="1.35"/><circle cx="586.4" cy="982.1" r="0.75"/><circle cx="296.3" cy="1068.8" r="1.45"/><circle cx="300.1" cy="970.4" r="0.65"/><circle cx="513.2" cy="1032.8" r="0.65"/><circle cx="177.1" cy="997.3" r="0.65"/><circle cx="348" cy="1069.6" r="1.35"/><circle cx="546" cy="1090.4" r="1.45"/><circle cx="423.8" cy="1079.6" r="0.95"/><circle cx="391.1" cy="1090.1" r="0.8"/><circle cx="623.8" cy="1067.3" r="0.7"/><circle cx="582.7" cy="1080.5" r="0.85"/><circle cx="783.4" cy="1012.8" r="0.65"/><circle cx="913.2" cy="988.4" r="0.7"/><circle cx="611.4" cy="1090.3" r="1.35"/><circle cx="335.4" cy="1066.6" r="1.25"/><circle cx="211" cy="972.4" r="1.45"/><circle cx="320.7" cy="963.6" r="0.65"/><circle cx="814.9" cy="1021.8" r="0.65"/><circle cx="726.5" cy="1040.6" r="1.45"/><circle cx="529.2" cy="1060.5" r="0.7"/><circle cx="406.9" cy="1031.4" r="0.85"/><circle cx="273.3" cy="981.9" r="0.8"/><circle cx="290.1" cy="1037.3" r="0.8"/><circle cx="857.9" cy="1040.6" r="0.8"/><circle cx="166.5" cy="1046" r="1.25"/><circle cx="287.8" cy="992.6" r="0.8"/><circle cx="508.4" cy="1018.3" r="0.85"/><circle cx="614.6" cy="969.6" r="1.45"/><circle cx="391.1" cy="1040" r="0.8"/><circle cx="708.2" cy="974" r="0.65"/><circle cx="637.3" cy="1057.8" r="0.8"/><circle cx="450.6" cy="970.9" r="0.95"/><circle cx="208.1" cy="1090" r="0.75"/><circle cx="253.9" cy="1086.9" r="0.65"/><circle cx="210.5" cy="1019.8" r="0.7"/><circle cx="758.8" cy="1066.8" r="1.35"/><circle cx="540.7" cy="1033" r="0.65"/><circle cx="949" cy="1087.7" r="0.8"/><circle cx="679.9" cy="1088.1" r="0.65"/><circle cx="454.8" cy="1077.4" r="1.45"/><circle cx="501.7" cy="962.3" r="0.75"/><circle cx="649.5" cy="1061.9" r="0.75"/><circle cx="601.6" cy="962.3" r="1.45"/><circle cx="735.3" cy="1026.2" r="0.8"/><circle cx="873" cy="992.1" r="1.25"/><circle cx="400.3" cy="1068.4" r="1.45"/><circle cx="436.3" cy="1089.1" r="0.65"/><circle cx="920.1" cy="1067" r="0.95"/><circle cx="842" cy="1026.7" r="0.65"/><circle cx="874.7" cy="962.1" r="0.85"/><circle cx="594.3" cy="992.6" r="1.45"/><circle cx="459.7" cy="974.1" r="0.75"/><circle cx="199.2" cy="992.2" r="1.45"/><circle cx="436.8" cy="962.8" r="1.45"/><circle cx="345.8" cy="997.7" r="0.85"/><circle cx="269.5" cy="990.6" r="1.45"/><circle cx="414.7" cy="1068.6" r="0.65"/><circle cx="191.7" cy="1042.4" r="1.35"/><circle cx="332.5" cy="1056.6" r="0.7"/><circle cx="839.8" cy="1071.5" r="0.95"/><circle cx="299.6" cy="985.7" r="0.95"/><circle cx="319.2" cy="981" r="0.95"/><circle cx="669.8" cy="967.6" r="0.65"/><circle cx="922.7" cy="1080.8" r="1.35"/><circle cx="883.6" cy="1009.8" r="0.7"/><circle cx="895.1" cy="1038.2" r="0.95"/><circle cx="593.3" cy="1025.8" r="0.7"/><circle cx="228.7" cy="1011.3" r="0.95"/><circle cx="628" cy="1036.1" r="0.65"/><circle cx="349.6" cy="1086.4" r="0.75"/><circle cx="701.1" cy="995" r="0.85"/><circle cx="446.8" cy="1037" r="0.8"/><circle cx="315.9" cy="1075.9" r="1.25"/><circle cx="771.6" cy="972" r="0.8"/><circle cx="666.8" cy="1037" r="0.7"/><circle cx="724.1" cy="1068.4" r="0.65"/><circle cx="549.4" cy="1050.6" r="1.35"/><circle cx="718.8" cy="1001.6" r="1.45"/><circle cx="730.5" cy="1061.7" r="1.35"/><circle cx="258.3" cy="984.5" r="0.8"/><circle cx="563.5" cy="1024.7" r="1.25"/><circle cx="948.6" cy="996.7" r="1.25"/><circle cx="936.9" cy="1055" r="0.85"/><circle cx="816.6" cy="1001.1" r="1.25"/><circle cx="616.5" cy="1061.1" r="0.65"/><circle cx="702.8" cy="1002.1" r="0.7"/><circle cx="513.8" cy="1050.5" r="0.65"/><circle cx="445.5" cy="982" r="1.45"/><circle cx="421.6" cy="1021.5" r="0.75"/><circle cx="428.6" cy="1073.7" r="0.8"/><circle cx="593.7" cy="1008.6" r="0.85"/><circle cx="659" cy="971.6" r="0.8"/><circle cx="673.1" cy="1012" r="0.95"/><circle cx="706.7" cy="1072.9" r="0.75"/><circle cx="654.8" cy="963" r="0.7"/><circle cx="165.9" cy="989.6" r="1.45"/><circle cx="332.5" cy="1002.4" r="0.75"/><circle cx="373.5" cy="985.4" r="0.65"/><circle cx="497.2" cy="1029.8" r="1.45"/><circle cx="768.5" cy="1010.4" r="0.95"/><circle cx="225.6" cy="978.4" r="0.65"/><circle cx="240.3" cy="1090.4" r="0.95"/><circle cx="235" cy="982.3" r="0.65"/><circle cx="577.7" cy="1007.5" r="1.45"/><circle cx="831.3" cy="1033.9" r="0.95"/></g>
<polygon points="164,151.5 557.3,84.2 557.3,851 294.8,902.9 294.8,968.4 164,989.5" fill="#ececec"/>
<polygon points="557.3,84.2 950.5,151.5 950.5,989.5 933.6,987.7 821.7,968.6 821.4,902.5 557.3,851" fill="#dadada"/>
<polyline points="164,151.5 557.3,84.2 950.5,151.5" fill="none" stroke="#555" stroke-width="1.1"/>
<line x1="164.2" y1="151.5" x2="164.2" y2="1092.3" stroke="#959595" stroke-width="1.6"/>
<line x1="950.6" y1="151.5" x2="950.6" y2="1092.3" stroke="#8a8a8a" stroke-width="1.4"/>
<line x1="164" y1="1092.3" x2="950.5" y2="1092.3" stroke="#999" stroke-width="1.6"/>
<line x1="557.5" y1="84.2" x2="557.5" y2="851" stroke="#666" stroke-width="1.1"/>
<line x1="164" y1="989.5" x2="294.8" y2="968.4" stroke="#555" stroke-width="1.1"/>
<line x1="821.7" y1="968.6" x2="950.5" y2="989.5" stroke="#555" stroke-width="1.1"/>
<path d="M 557.3 851 L 294.8 902.9 L 295.4 971.6 C 389.3 1017.6 451.5 1059.3 566 1059.3 C 637.3 1059.3 653 1054.1 821.5 971.6 L 821.4 902.5 Z" fill="#fff"/>
<clipPath id="gc"><path transform="matrix(1 0 0 1.059 0 -28.4)" d="M 557.3 851 L 294.8 902.9 C 382.4 946.7 451.1 994 557.5 994 C 665.1 994 733.8 946.7 821.4 902.5 Z"/></clipPath>
<path d="M 347 930.5 L 545 887.5 Q 557 884.5 569 887.5 L 768.6 927 L 768.6 1100 L 347 1100 Z" fill="#c6c6c6" clip-path="url(#gc)"/>
<ellipse cx="559" cy="940.2" rx="49" ry="17.3" fill="#5a5a5a"/>
<path d="M 557.3 851 L 294.8 902.9 C 382.4 946.7 451.1 994 557.5 994 C 665.1 994 733.8 946.7 821.4 902.5 Z M 549 862.5 Q 557.3 860 566 862.5 L 780 898.5 C 790 900.1 794 905.5 786 909.3 C 710.1 945.5 670.7 981 557.8 981 C 448.1 981 405.8 947 336 913.5 C 324 908.3 327.5 901.8 342 899.3 Z" fill="#fff" fill-rule="evenodd"/>
<path d="M 294.8 967.3 L 524.9 921.1 Q 557 913 591.3 920.3 L 821.4 966.5" fill="none" stroke="#222" stroke-width="1"/>
<line x1="524.9" y1="867.5" x2="524.9" y2="921.1" stroke="#444" stroke-width="1"/>
<line x1="591.3" y1="867.5" x2="591.3" y2="920.3" stroke="#444" stroke-width="1"/>
<ellipse cx="559.1" cy="939.5" rx="18.5" ry="7" fill="#fff" stroke="#000" stroke-width="1.4"/>
<path d="M 557.3 851 L 294.8 902.9 C 382.4 946.7 451.1 994 557.5 994 C 665.1 994 733.8 946.7 821.4 902.5 Z" fill="none" stroke="#000" stroke-width="1.3"/>
<path d="M 549 862.5 Q 557.3 860 566 862.5 L 780 898.5 C 790 900.1 794 905.5 786 909.3 C 710.1 945.5 670.7 981 557.8 981 C 448.1 981 405.8 947 336 913.5 C 324 908.3 327.5 901.8 342 899.3 Z" fill="none" stroke="#000" stroke-width="1.3"/>
<path d="M 295.4 971.6 C 389.3 1017.6 451.5 1059.3 566 1059.3 C 637.3 1059.3 653 1054.1 821.5 971.6" fill="none" stroke="#000" stroke-width="1.2"/>
<line x1="294.9" y1="902.9" x2="294.9" y2="971.7" stroke="#666" stroke-width="1.3"/>
<line x1="821.5" y1="902.5" x2="821.5" y2="971.6" stroke="#333" stroke-width="1.2"/>
<line x1="179.8" y1="988" x2="294.8" y2="968.4" stroke="#000" stroke-width="2.4"/>
<line x1="821.7" y1="968.6" x2="933.6" y2="987.7" stroke="#000" stroke-width="2.4"/>
<polyline points="225.6,1016.4 557.3,939.2 887.9,1015.9" fill="none" stroke="#000" stroke-width="2"/>
<line x1="654.4" y1="903.5" x2="733.1" y2="918.8" stroke="#000" stroke-width="1.1"/>
<line x1="689.1" y1="908.3" x2="689.1" y2="939.6" stroke="#000" stroke-width="1.2"/><polygon points="689.1,939.6 686.4,930.6 691.9,930.6" fill="#000"/><polygon points="689.1,908.3 691.9,917.3 686.4,917.3" fill="#000"/>
<text x="0" y="0" class="t" transform="translate(622.5,920.5) rotate(13)">0-6 cm</text>
<line x1="557.5" y1="52" x2="557.5" y2="203.3" stroke="#000" stroke-width="1.35"/>
<line x1="162.5" y1="230.2" x2="385.6" y2="191.8" stroke="#000" stroke-width="2"/>
<line x1="432.7" y1="183.6" x2="452.5" y2="180.2" stroke="#000" stroke-width="2"/>
<line x1="408.8" y1="75.9" x2="408.8" y2="163.5" stroke="#000" stroke-width="1.5"/>
<line x1="409.3" y1="96" x2="556.9" y2="70.5" stroke="#000" stroke-width="1.4"/><polygon points="556.9,70.5 542.8,76.7 541.5,69.4" fill="#000"/><polygon points="409.3,96 423.4,89.8 424.7,97.1" fill="#000"/>
<text class="t" transform="translate(453.6,84.8) rotate(-9.8)">20 cm</text>
<line x1="476.5" y1="118.4" x2="476.5" y2="154.5" stroke="#000" stroke-width="1.5"/>
<line x1="476.8" y1="130.8" x2="556.9" y2="117.6" stroke="#000" stroke-width="1.4"/><polygon points="556.9,117.6 542.7,123.7 541.5,116.3" fill="#000"/><polygon points="476.8,130.8 491,124.7 492.2,132.1" fill="#000"/>
<text class="t" transform="translate(487,122.8) rotate(-9.5)">10 cm</text>
<polygon points="385.6,166.8 432.4,160.6 432.4,207.9 385.6,213.9" fill="#999" stroke="#000" stroke-width="1.3"/>
<circle cx="408.7" cy="187" r="17.5" fill="#fff" stroke="#000" stroke-width="1.3"/>
<path d="M 406.3 169.6 L 406.3 175.5 A 2.4 2.4 0 0 0 411.1 175.5 L 411.1 169.4" fill="#999" stroke="#000" stroke-width="1.2"/>
<path d="M 406.3 204.4 L 406.3 199 A 2.4 2.4 0 0 1 411.1 199 L 411.1 204.3" fill="#999" stroke="#000" stroke-width="1.2"/>
<circle cx="401.4" cy="188.6" r="3.3" fill="#000"/><circle cx="416.3" cy="187.9" r="3.3" fill="#000"/>
<polygon points="452.5,156.4 500.9,150.2 500.9,198 452.5,204.1" fill="#999" stroke="#000" stroke-width="1.3"/>
<polygon points="457.3,160.5 495.5,155.7 495.5,193.2 457.3,198.6" fill="#fff" stroke="#000" stroke-width="1.3"/>
<polygon points="465.8,169.4 487.7,166.6 487.7,184.6 465.8,187.6" fill="#000"/>
<polygon points="466.6,170.5 468.6,170.2 468.6,186 466.6,186.3" fill="#8c8c8c"/>
<polygon points="472,169.8 474.8,169.4 474.8,185.2 472,185.6" fill="#8c8c8c"/>
<polygon points="478.1,169 480.9,168.7 480.9,184.3 478.1,184.7" fill="#8c8c8c"/>
<polygon points="484.6,168.2 486.6,167.9 486.6,183.6 484.6,183.8" fill="#8c8c8c"/>
<line x1="209.2" y1="240" x2="209.2" y2="492" stroke="#000" stroke-width="1.6"/>
<line x1="209.2" y1="567" x2="209.2" y2="965" stroke="#000" stroke-width="1.6"/>
<polygon points="209.3,222.5 215.3,245.5 203.3,245.5" fill="#000"/>
<polygon points="209.2,982.2 203.2,960.2 215.2,960.2" fill="#000"/>
<text class="t t21" x="190" y="535.6">220 cm</text>
<line x1="662.7" y1="409.2" x2="662.7" y2="522" stroke="#000" stroke-width="1.5"/>
<line x1="557.4" y1="412.7" x2="662.7" y2="430.1" stroke="#000" stroke-width="1.4"/><polygon points="662.7,430.1 647.2,431.6 648.6,423.7" fill="#000"/><polygon points="557.4,412.7 572.9,411.2 571.5,419.1" fill="#000"/>
<text class="t" transform="translate(583,413.5) rotate(9.4)">10 cm</text>
<line x1="614.7" y1="473.7" x2="614.7" y2="514" stroke="#000" stroke-width="1.5"/>
<line x1="557.4" y1="483.3" x2="614.7" y2="492.5" stroke="#000" stroke-width="1.4"/><polygon points="614.7,492.5 600.2,494.2 601.5,486.3" fill="#000"/><polygon points="557.4,483.3 571.9,481.6 570.6,489.5" fill="#000"/>
<text class="t" transform="translate(567,476.5) rotate(9)">4 cm</text>
<circle cx="614.7" cy="521.1" r="6.7" fill="#808080" stroke="#000" stroke-width="1.2"/>
<circle cx="662.7" cy="528.9" r="6.7" fill="#808080" stroke="#000" stroke-width="1.2"/>
<line x1="669.3" y1="528.3" x2="950.5" y2="575.2" stroke="#000" stroke-width="1.4"/>
<line x1="900.6" y1="585" x2="900.6" y2="665.1" stroke="#000" stroke-width="1.6"/>
<line x1="900.6" y1="720.7" x2="900.6" y2="965" stroke="#000" stroke-width="1.6"/>
<polygon points="900.6,567.2 907.1,589.6 894.1,589.6" fill="#000"/>
<polygon points="900.5,982.5 894.5,960.1 906.5,960.1" fill="#000"/>
<text class="t t21" x="839" y="704.4">115-125 cm</text>
<line x1="214" y1="982.2" x2="277.3" y2="1004" stroke="#000" stroke-width="1.4"/><polygon points="277.3,1004 263.7,1003.5 266.3,996" fill="#000"/><polygon points="214,982.2 227.6,982.7 225,990.2" fill="#000"/>
<text class="t" x="172.5" y="1010.5">25 cm</text>
<line x1="899.7" y1="982.1" x2="837.1" y2="1003.4" stroke="#000" stroke-width="1.4"/><polygon points="837.1,1003.4 848.1,995.4 850.7,1003" fill="#000"/><polygon points="899.7,982.1 888.7,990.1 886.1,982.5" fill="#000"/>
<text class="t" x="889.5" y="1010.5">25 cm</text>
<circle cx="376.5" cy="247.9" r="25" fill="#000"/><g stroke="#fff" stroke-width="1.9"><line x1="360.4" y1="241.4" x2="374.2" y2="241.4"/><line x1="363.3" y1="235.7" x2="371.3" y2="247.1"/><line x1="363.3" y1="247.1" x2="371.3" y2="235.7"/></g><text x="375.5" y="260.7" class="bd">5</text>
<circle cx="495.9" cy="234.4" r="25" fill="#000"/><g stroke="#fff" stroke-width="1.9"><line x1="479.8" y1="227.9" x2="493.6" y2="227.9"/><line x1="482.7" y1="222.2" x2="490.7" y2="233.6"/><line x1="482.7" y1="233.6" x2="490.7" y2="222.2"/></g><text x="494.9" y="247.2" class="bd">6</text>
<circle cx="605.7" cy="566.9" r="25" fill="#000"/><g stroke="#fff" stroke-width="1.9"><line x1="589.6" y1="560.4" x2="603.4" y2="560.4"/><line x1="592.5" y1="554.7" x2="600.5" y2="566.1"/><line x1="592.5" y1="566.1" x2="600.5" y2="554.7"/></g><path transform="translate(605.7,566.9)" d="M 7.9 13.1 L 7.9 -8.9 L 3.8 -6.3 L 3.1 -8.6 L 8.3 -12.4 L 11.2 -12.4 L 11.2 13.1 Z" fill="#fff"/>
<circle cx="679" cy="574.5" r="25" fill="#000"/><g stroke="#fff" stroke-width="1.9"><line x1="662.9" y1="568" x2="676.7" y2="568"/><line x1="665.8" y1="562.3" x2="673.8" y2="573.7"/><line x1="665.8" y1="573.7" x2="673.8" y2="562.3"/></g><text x="678" y="587.3" class="bd">2</text>
<circle cx="605.9" cy="888.5" r="25" fill="#000"/><g stroke="#fff" stroke-width="1.9"><line x1="589.8" y1="882" x2="603.6" y2="882"/><line x1="592.7" y1="876.3" x2="600.7" y2="887.7"/><line x1="592.7" y1="887.7" x2="600.7" y2="876.3"/></g><text x="604.9" y="901.3" class="bd">3</text>
<circle cx="502.3" cy="939" r="25" fill="#000"/><g stroke="#fff" stroke-width="1.9"><line x1="486.2" y1="932.5" x2="500" y2="932.5"/><line x1="489.1" y1="926.8" x2="497.1" y2="938.2"/><line x1="489.1" y1="938.2" x2="497.1" y2="926.8"/></g><text x="501.3" y="951.8" class="bd">4</text>
<text transform="translate(1027,1121) scale(0.80,1)" class="s2">S2</text>
</svg>
</body></html>
